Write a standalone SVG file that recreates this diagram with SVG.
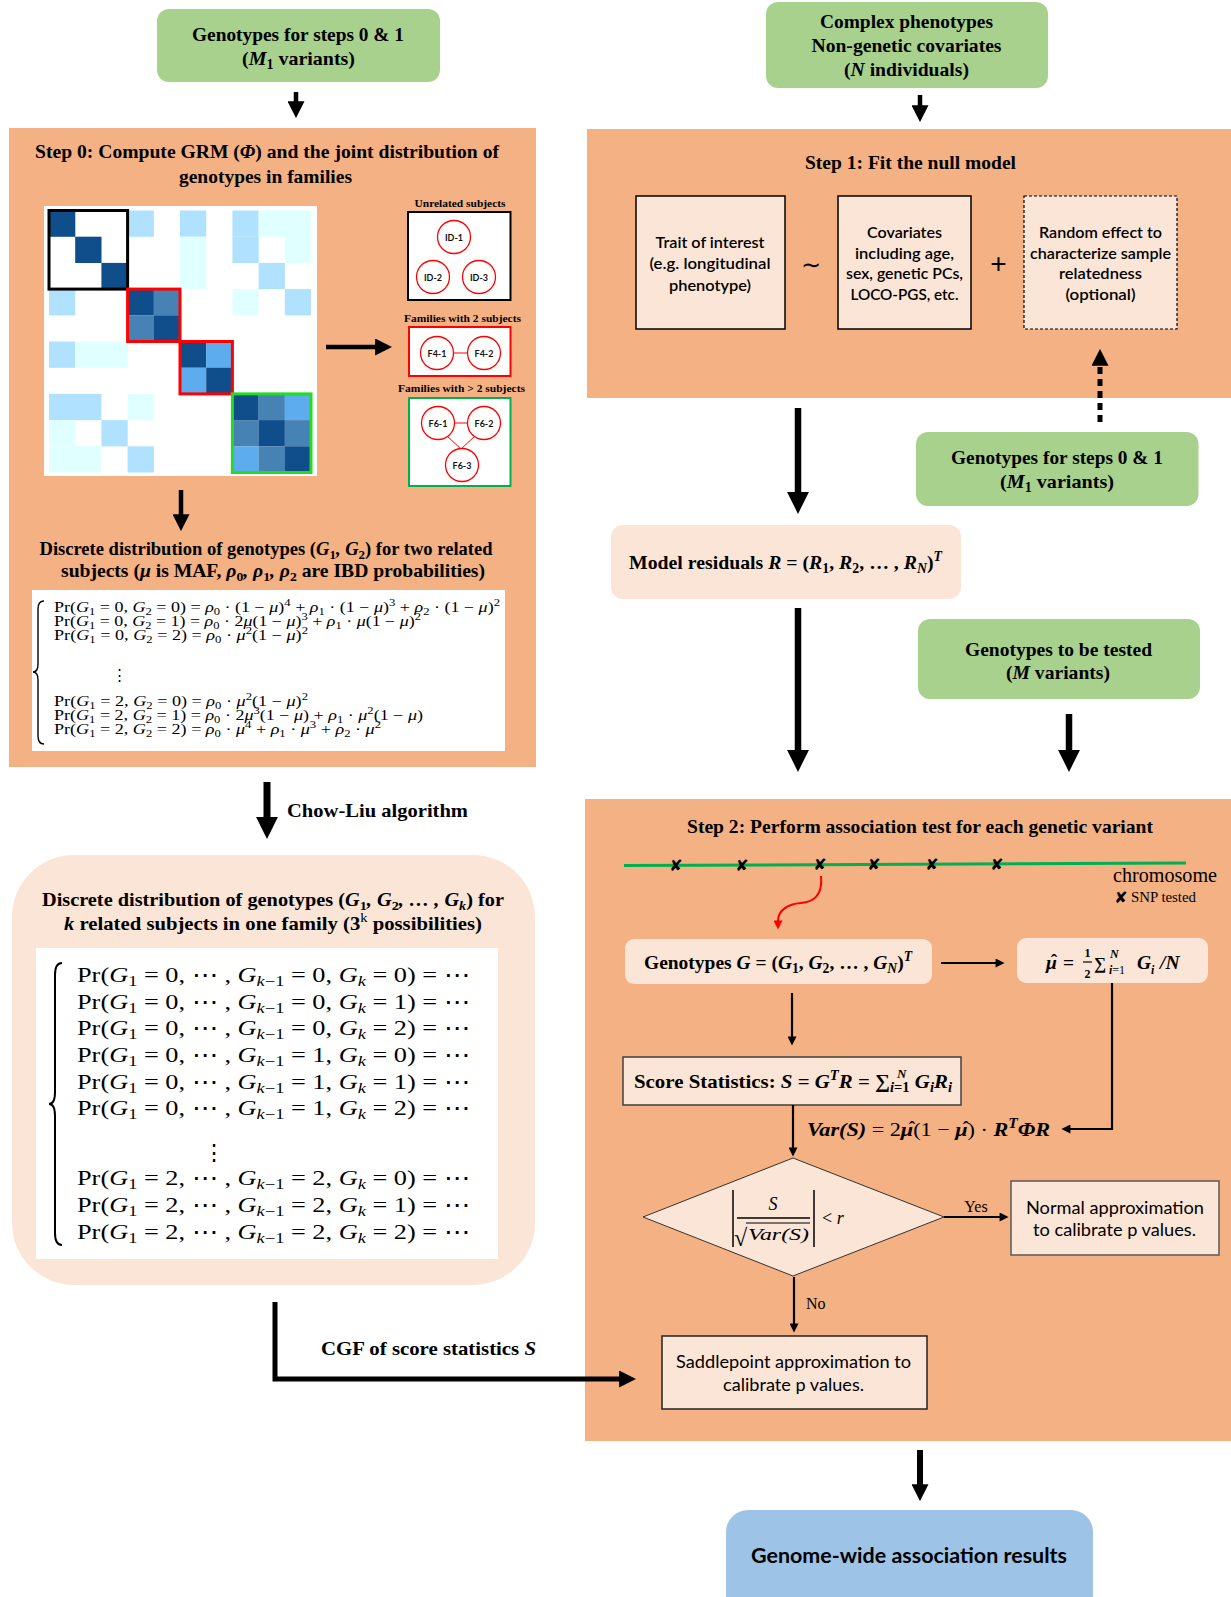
<svg xmlns="http://www.w3.org/2000/svg" width="1231" height="1597" viewBox="0 0 1231 1597">
<defs>
<style>
.sf{font-family:"Liberation Serif","Times New Roman",serif;fill:#000}
.b{font-weight:bold}
.i{font-style:italic}
.bi{font-weight:bold;font-style:italic}
.up{font-style:normal;font-weight:normal}
.ss{font-family:Lato,"Liberation Sans",sans-serif;fill:#000}
.sb{font-size:70%;baseline-shift:-0.28em}
.sp{font-size:70%;baseline-shift:0.6em}
.mid{text-anchor:middle}
.orange{fill:#F4B183}
.peach{fill:#FBE5D6}
.green{fill:#A9D18E}
.ca{fill:#E0FFFF}.cb{fill:#B0E2FF}.cc{fill:#5CACEE}.cd{fill:#4682B4}.ce{fill:#104E8B}
.circ{fill:#fff;stroke:#FF0000;stroke-width:1.3}
.clab{font-family:Lato,"Liberation Sans",sans-serif;font-weight:bold;font-size:9px;text-anchor:middle;fill:#111}
.rl{stroke:#FF0000;stroke-width:1;fill:none}
.thick{stroke:#000;fill:none}
.thin{stroke:#000;stroke-width:2.2;fill:none}
.eq{font-family:"Liberation Serif","DejaVu Serif",serif;fill:#000}
.x{font-family:"DejaVu Sans",sans-serif;font-weight:bold;font-size:16px;text-anchor:middle;fill:#000}
</style>
<marker id="mb" viewBox="0 0 10 10" refX="0.5" refY="5" markerUnits="userSpaceOnUse" markerWidth="22" markerHeight="22" orient="auto"><path d="M0,0 L10,5 L0,10 z" fill="#000"/></marker>
<marker id="mm" viewBox="0 0 10 10" refX="0.5" refY="5" markerUnits="userSpaceOnUse" markerWidth="17" markerHeight="17" orient="auto"><path d="M0,0 L10,5 L0,10 z" fill="#000"/></marker>
<marker id="ms" viewBox="0 0 10 10" refX="0.5" refY="5" markerUnits="userSpaceOnUse" markerWidth="10" markerHeight="9" orient="auto"><path d="M0,0 L10,5 L0,10 z" fill="#000"/></marker>
<marker id="mr" viewBox="0 0 10 10" refX="0.5" refY="5" markerUnits="userSpaceOnUse" markerWidth="10" markerHeight="9" orient="auto"><path d="M0,0 L10,5 L0,10 z" fill="#FF0000"/></marker>
</defs>

<rect width="1231" height="1597" fill="#fff"/>

<g id="step0">
<rect class="orange" x="9" y="128" width="527" height="639"/>
<text class="sf b mid" x="267" y="158" font-size="19.5" textLength="464" lengthAdjust="spacingAndGlyphs">Step 0: Compute GRM (<tspan class="bi">Φ</tspan>) and the joint distribution of</text>
<text class="sf b mid" x="265.5" y="183" font-size="19.5" textLength="173" lengthAdjust="spacingAndGlyphs">genotypes in families</text>
</g>

<g id="grm-matrix">
<rect x="44" y="206" width="273" height="270" fill="#fff"/>
<rect class="ce" x="49" y="210.5" width="26.3" height="26.3"/>
<rect class="cb" x="127.6" y="210.5" width="26.3" height="26.3"/>
<rect class="cb" x="180" y="210.5" width="26.3" height="26.3"/>
<rect class="cb" x="232.4" y="210.5" width="26.3" height="26.3"/>
<rect class="ca" x="258.6" y="210.5" width="52.4" height="26.3"/>
<rect class="ce" x="75.2" y="236.7" width="26.3" height="26.3"/>
<rect class="ca" x="180" y="236.7" width="26.3" height="26.3"/>
<rect class="cb" x="232.4" y="236.7" width="26.3" height="26.3"/>
<rect class="ca" x="284.8" y="236.7" width="26.2" height="26.3"/>
<rect class="ce" x="101.4" y="262.9" width="26.3" height="26.3"/>
<rect class="ca" x="180" y="262.9" width="26.3" height="26.3"/>
<rect class="cb" x="258.6" y="262.9" width="26.3" height="26.3"/>
<rect class="cb" x="49" y="289.1" width="26.3" height="26.3"/>
<rect class="ce" x="127.6" y="289.1" width="26.3" height="26.3"/>
<rect class="cd" x="153.8" y="289.1" width="26.3" height="26.3"/>
<rect class="ca" x="232.4" y="289.1" width="26.3" height="26.3"/>
<rect class="cb" x="284.8" y="289.1" width="26.2" height="26.3"/>
<rect class="cd" x="127.6" y="315.3" width="26.3" height="26.3"/>
<rect class="ce" x="153.8" y="315.3" width="26.3" height="26.3"/>
<rect class="cb" x="49" y="341.5" width="26.3" height="26.3"/>
<rect class="ca" x="75.2" y="341.5" width="52.4" height="26.3"/>
<rect class="ce" x="180" y="341.5" width="26.3" height="26.3"/>
<rect class="cc" x="206.2" y="341.5" width="26.3" height="26.3"/>
<rect class="cc" x="180" y="367.7" width="26.3" height="26.3"/>
<rect class="ce" x="206.2" y="367.7" width="26.3" height="26.3"/>
<rect class="cb" x="49" y="393.9" width="52.4" height="26.3"/>
<rect class="ca" x="127.6" y="393.9" width="26.3" height="26.3"/>
<rect class="ce" x="232.4" y="393.9" width="26.3" height="26.3"/>
<rect class="cd" x="258.6" y="393.9" width="26.3" height="26.3"/>
<rect class="cc" x="284.8" y="393.9" width="26.2" height="26.3"/>
<rect class="ca" x="49" y="420.1" width="26.3" height="26.3"/>
<rect class="cb" x="101.4" y="420.1" width="26.3" height="26.3"/>
<rect class="cd" x="232.4" y="420.1" width="26.3" height="26.3"/>
<rect class="ce" x="258.6" y="420.1" width="26.3" height="26.3"/>
<rect class="cd" x="284.8" y="420.1" width="26.2" height="26.3"/>
<rect class="ca" x="49" y="446.3" width="52.4" height="26.2"/>
<rect class="cb" x="127.6" y="446.3" width="26.3" height="26.2"/>
<rect class="cc" x="232.4" y="446.3" width="26.3" height="26.2"/>
<rect class="cd" x="258.6" y="446.3" width="26.3" height="26.2"/>
<rect class="ce" x="284.8" y="446.3" width="26.2" height="26.2"/>
<rect x="49" y="210.5" width="78.6" height="78.6" fill="none" stroke="#000" stroke-width="3"/>
<rect x="127.6" y="289.1" width="52.4" height="52.4" fill="none" stroke="#FF0000" stroke-width="3"/>
<rect x="180" y="341.5" width="52.4" height="52.4" fill="none" stroke="#FF0000" stroke-width="3"/>
<rect x="232.4" y="393.9" width="78.6" height="78.6" fill="none" stroke="#22DD22" stroke-width="3"/>
</g>

<g id="unrelated">
<text class="sf b mid" x="460" y="207" font-size="11" textLength="91" lengthAdjust="spacingAndGlyphs">Unrelated subjects</text>
<rect x="408" y="212" width="102.5" height="88" fill="#fff" stroke="#000" stroke-width="2"/>
<circle class="circ" cx="454" cy="237" r="16.5"/><text class="clab" x="454" y="240.5">ID-1</text>
<circle class="circ" cx="433" cy="277" r="16.5"/><text class="clab" x="433" y="280.5">ID-2</text>
<circle class="circ" cx="479" cy="277" r="16.5"/><text class="clab" x="479" y="280.5">ID-3</text>
</g>
<g id="fam2">
<text class="sf b mid" x="462.5" y="322" font-size="11" textLength="117" lengthAdjust="spacingAndGlyphs">Families with 2 subjects</text>
<rect x="409" y="327" width="101.5" height="49" fill="#fff" stroke="#FF0000" stroke-width="2"/>
<line class="rl" x1="453" y1="353" x2="468" y2="353"/>
<circle class="circ" cx="437" cy="353" r="16.5"/><text class="clab" x="437" y="356.5">F4-1</text>
<circle class="circ" cx="484" cy="353" r="16.5"/><text class="clab" x="484" y="356.5">F4-2</text>
</g>
<g id="fam3">
<text class="sf b mid" x="461.5" y="392" font-size="11" textLength="127" lengthAdjust="spacingAndGlyphs">Families with &gt; 2 subjects</text>
<rect x="409" y="398" width="101.5" height="88" fill="#fff" stroke="#00B050" stroke-width="2"/>
<path class="rl" d="M454 423 H468 M447 436 L461 449 M475 436 L461 449"/>
<circle class="circ" cx="438" cy="423" r="16.5"/><text class="clab" x="438" y="426.5">F6-1</text>
<circle class="circ" cx="484" cy="423" r="16.5"/><text class="clab" x="484" y="426.5">F6-2</text>
<circle class="circ" cx="462" cy="465" r="16.5"/><text class="clab" x="462" y="468.5">F6-3</text>
</g>

<g id="pair-dist">
<text class="sf b mid" x="266" y="555" font-size="19" textLength="453" lengthAdjust="spacingAndGlyphs">Discrete distribution of genotypes (<tspan class="bi">G</tspan><tspan class="sb">1</tspan><tspan class="bi">, G</tspan><tspan class="sb">2</tspan>) for two related</text>
<text class="sf b mid" x="273" y="577" font-size="19" textLength="424" lengthAdjust="spacingAndGlyphs">subjects (<tspan class="bi">μ</tspan> is MAF, <tspan class="bi">ρ</tspan><tspan class="sb">0</tspan><tspan class="bi">, ρ</tspan><tspan class="sb">1</tspan><tspan class="bi">, ρ</tspan><tspan class="sb">2</tspan> are IBD probabilities)</text>
<rect x="32" y="590" width="473" height="161" fill="#fff"/>
<path d="M44 601 Q38 601 38 609 L38 664 Q38 672 33 672 Q38 672 38 680 L38 736 Q38 744 44 744" fill="none" stroke="#000" stroke-width="1.4"/>
<text class="eq" x="54" y="612" font-size="14" textLength="446" lengthAdjust="spacingAndGlyphs">Pr(<tspan class="i">G</tspan><tspan class="sb">1</tspan> = 0, <tspan class="i">G</tspan><tspan class="sb">2</tspan> = 0) = <tspan class="i">ρ</tspan><tspan class="sb">0</tspan> · (1 − <tspan class="i">μ</tspan>)<tspan class="sp">4</tspan> + <tspan class="i">ρ</tspan><tspan class="sb">1</tspan> · (1 − <tspan class="i">μ</tspan>)<tspan class="sp">3</tspan> + <tspan class="i">ρ</tspan><tspan class="sb">2</tspan> · (1 − <tspan class="i">μ</tspan>)<tspan class="sp">2</tspan></text>
<text class="eq" x="54" y="626" font-size="14" textLength="367" lengthAdjust="spacingAndGlyphs">Pr(<tspan class="i">G</tspan><tspan class="sb">1</tspan> = 0, <tspan class="i">G</tspan><tspan class="sb">2</tspan> = 1) = <tspan class="i">ρ</tspan><tspan class="sb">0</tspan> · 2<tspan class="i">μ</tspan>(1 − <tspan class="i">μ</tspan>)<tspan class="sp">3</tspan> + <tspan class="i">ρ</tspan><tspan class="sb">1</tspan> · <tspan class="i">μ</tspan>(1 − <tspan class="i">μ</tspan>)<tspan class="sp">2</tspan></text>
<text class="eq" x="54" y="640" font-size="14" textLength="254" lengthAdjust="spacingAndGlyphs">Pr(<tspan class="i">G</tspan><tspan class="sb">1</tspan> = 0, <tspan class="i">G</tspan><tspan class="sb">2</tspan> = 2) = <tspan class="i">ρ</tspan><tspan class="sb">0</tspan> · <tspan class="i">μ</tspan><tspan class="sp">2</tspan>(1 − <tspan class="i">μ</tspan>)<tspan class="sp">2</tspan></text>
<text class="eq mid" x="119" y="680" font-size="15">⋮</text>
<text class="eq" x="54" y="706" font-size="14" textLength="254" lengthAdjust="spacingAndGlyphs">Pr(<tspan class="i">G</tspan><tspan class="sb">1</tspan> = 2, <tspan class="i">G</tspan><tspan class="sb">2</tspan> = 0) = <tspan class="i">ρ</tspan><tspan class="sb">0</tspan> · <tspan class="i">μ</tspan><tspan class="sp">2</tspan>(1 − <tspan class="i">μ</tspan>)<tspan class="sp">2</tspan></text>
<text class="eq" x="54" y="720" font-size="14" textLength="369" lengthAdjust="spacingAndGlyphs">Pr(<tspan class="i">G</tspan><tspan class="sb">1</tspan> = 2, <tspan class="i">G</tspan><tspan class="sb">2</tspan> = 1) = <tspan class="i">ρ</tspan><tspan class="sb">0</tspan> · 2<tspan class="i">μ</tspan><tspan class="sp">3</tspan>(1 − <tspan class="i">μ</tspan>) + <tspan class="i">ρ</tspan><tspan class="sb">1</tspan> · <tspan class="i">μ</tspan><tspan class="sp">2</tspan>(1 − <tspan class="i">μ</tspan>)</text>
<text class="eq" x="54" y="734" font-size="14" textLength="327" lengthAdjust="spacingAndGlyphs">Pr(<tspan class="i">G</tspan><tspan class="sb">1</tspan> = 2, <tspan class="i">G</tspan><tspan class="sb">2</tspan> = 2) = <tspan class="i">ρ</tspan><tspan class="sb">0</tspan> · <tspan class="i">μ</tspan><tspan class="sp">4</tspan> + <tspan class="i">ρ</tspan><tspan class="sb">1</tspan> · <tspan class="i">μ</tspan><tspan class="sp">3</tspan> + <tspan class="i">ρ</tspan><tspan class="sb">2</tspan> · <tspan class="i">μ</tspan><tspan class="sp">2</tspan></text>
</g>

<g id="family-dist">
<rect class="peach" x="12" y="855" width="523" height="430" rx="62"/>
<text class="sf b mid" x="273" y="906" font-size="19" textLength="462" lengthAdjust="spacingAndGlyphs">Discrete distribution of genotypes (<tspan class="bi">G</tspan><tspan class="sb">1</tspan><tspan class="bi">, G</tspan><tspan class="sb">2</tspan><tspan class="bi">, … , G</tspan><tspan class="sb i">k</tspan>) for</text>
<text class="sf b mid" x="273" y="930" font-size="19" textLength="418" lengthAdjust="spacingAndGlyphs"><tspan class="bi">k</tspan> related subjects in one family (3<tspan class="sp up">k</tspan> possibilities)</text>
<rect x="36" y="948" width="462" height="311" fill="#fff"/>
<path d="M62 963 Q55 963 55 975 L55 1092 Q55 1104 49 1104 Q55 1104 55 1116 L55 1233 Q55 1245 62 1245" fill="none" stroke="#000" stroke-width="2"/>
<text class="eq" x="77" y="982" font-size="21" textLength="393" lengthAdjust="spacingAndGlyphs">Pr(<tspan class="i">G</tspan><tspan class="sb">1</tspan> = 0, ⋯ , <tspan class="i">G</tspan><tspan class="sb"><tspan class="i">k</tspan>−1</tspan> = 0, <tspan class="i">G</tspan><tspan class="sb i">k</tspan> = 0) = ⋯</text>
<text class="eq" x="77" y="1009" font-size="21" textLength="393" lengthAdjust="spacingAndGlyphs">Pr(<tspan class="i">G</tspan><tspan class="sb">1</tspan> = 0, ⋯ , <tspan class="i">G</tspan><tspan class="sb"><tspan class="i">k</tspan>−1</tspan> = 0, <tspan class="i">G</tspan><tspan class="sb i">k</tspan> = 1) = ⋯</text>
<text class="eq" x="77" y="1035" font-size="21" textLength="393" lengthAdjust="spacingAndGlyphs">Pr(<tspan class="i">G</tspan><tspan class="sb">1</tspan> = 0, ⋯ , <tspan class="i">G</tspan><tspan class="sb"><tspan class="i">k</tspan>−1</tspan> = 0, <tspan class="i">G</tspan><tspan class="sb i">k</tspan> = 2) = ⋯</text>
<text class="eq" x="77" y="1062" font-size="21" textLength="393" lengthAdjust="spacingAndGlyphs">Pr(<tspan class="i">G</tspan><tspan class="sb">1</tspan> = 0, ⋯ , <tspan class="i">G</tspan><tspan class="sb"><tspan class="i">k</tspan>−1</tspan> = 1, <tspan class="i">G</tspan><tspan class="sb i">k</tspan> = 0) = ⋯</text>
<text class="eq" x="77" y="1089" font-size="21" textLength="393" lengthAdjust="spacingAndGlyphs">Pr(<tspan class="i">G</tspan><tspan class="sb">1</tspan> = 0, ⋯ , <tspan class="i">G</tspan><tspan class="sb"><tspan class="i">k</tspan>−1</tspan> = 1, <tspan class="i">G</tspan><tspan class="sb i">k</tspan> = 1) = ⋯</text>
<text class="eq" x="77" y="1115" font-size="21" textLength="393" lengthAdjust="spacingAndGlyphs">Pr(<tspan class="i">G</tspan><tspan class="sb">1</tspan> = 0, ⋯ , <tspan class="i">G</tspan><tspan class="sb"><tspan class="i">k</tspan>−1</tspan> = 1, <tspan class="i">G</tspan><tspan class="sb i">k</tspan> = 2) = ⋯</text>
<text class="eq mid" x="214" y="1160" font-size="22">⋮</text>
<text class="eq" x="77" y="1185" font-size="21" textLength="393" lengthAdjust="spacingAndGlyphs">Pr(<tspan class="i">G</tspan><tspan class="sb">1</tspan> = 2, ⋯ , <tspan class="i">G</tspan><tspan class="sb"><tspan class="i">k</tspan>−1</tspan> = 2, <tspan class="i">G</tspan><tspan class="sb i">k</tspan> = 0) = ⋯</text>
<text class="eq" x="77" y="1212" font-size="21" textLength="393" lengthAdjust="spacingAndGlyphs">Pr(<tspan class="i">G</tspan><tspan class="sb">1</tspan> = 2, ⋯ , <tspan class="i">G</tspan><tspan class="sb"><tspan class="i">k</tspan>−1</tspan> = 2, <tspan class="i">G</tspan><tspan class="sb i">k</tspan> = 1) = ⋯</text>
<text class="eq" x="77" y="1239" font-size="21" textLength="393" lengthAdjust="spacingAndGlyphs">Pr(<tspan class="i">G</tspan><tspan class="sb">1</tspan> = 2, ⋯ , <tspan class="i">G</tspan><tspan class="sb"><tspan class="i">k</tspan>−1</tspan> = 2, <tspan class="i">G</tspan><tspan class="sb i">k</tspan> = 2) = ⋯</text>
</g>

<g id="step1">
<rect class="orange" x="587" y="129" width="644" height="269"/>
<text class="sf b mid" x="910.5" y="169" font-size="19.5" textLength="211" lengthAdjust="spacingAndGlyphs">Step 1: Fit the null model</text>
</g>
<g id="trait">
<rect class="peach" x="636" y="196" width="149" height="133" stroke="#000" stroke-width="1.5"/>
<text class="ss mid" x="710" y="248" font-size="16" font-weight="600" textLength="109" lengthAdjust="spacingAndGlyphs">Trait of interest</text>
<text class="ss mid" x="710" y="269" font-size="16" font-weight="600" textLength="121" lengthAdjust="spacingAndGlyphs">(e.g. longitudinal</text>
<text class="ss mid" x="710" y="291" font-size="16" font-weight="600" textLength="82" lengthAdjust="spacingAndGlyphs">phenotype)</text>
</g>
<text class="mid" x="811" y="273" font-size="24" font-family="DejaVu Sans, sans-serif">∼</text>
<g id="covariates">
<rect class="peach" x="838" y="196" width="133" height="133" stroke="#000" stroke-width="1.5"/>
<text class="ss mid" x="904.5" y="238" font-size="16" font-weight="600" textLength="75" lengthAdjust="spacingAndGlyphs">Covariates</text>
<text class="ss mid" x="904.5" y="259" font-size="16" font-weight="600" textLength="99" lengthAdjust="spacingAndGlyphs">including age,</text>
<text class="ss mid" x="904.5" y="279" font-size="16" font-weight="600" textLength="117" lengthAdjust="spacingAndGlyphs">sex, genetic PCs,</text>
<text class="ss mid" x="904.5" y="300" font-size="16" font-weight="600" textLength="108" lengthAdjust="spacingAndGlyphs">LOCO-PGS, etc.</text>
</g>
<text class="mid" x="998.5" y="273" font-size="28" font-family="Liberation Sans, sans-serif" font-weight="300">+</text>
<g id="random-effect">
<rect class="peach" x="1024" y="196" width="153" height="133" stroke="#000" stroke-width="1.2" stroke-dasharray="3 2"/>
<text class="ss mid" x="1100.5" y="238" font-size="16" font-weight="600" textLength="123" lengthAdjust="spacingAndGlyphs">Random effect to</text>
<text class="ss mid" x="1100.5" y="259" font-size="16" font-weight="600" textLength="141" lengthAdjust="spacingAndGlyphs">characterize sample</text>
<text class="ss mid" x="1100.5" y="279" font-size="16" font-weight="600" textLength="83" lengthAdjust="spacingAndGlyphs">relatedness</text>
<text class="ss mid" x="1100.5" y="300" font-size="16" font-weight="600" textLength="70" lengthAdjust="spacingAndGlyphs">(optional)</text>
</g>

<g id="step2">
<rect class="orange" x="585" y="799" width="646" height="642"/>
<text class="sf b mid" x="920" y="833" font-size="19.5" textLength="466" lengthAdjust="spacingAndGlyphs">Step 2: Perform association test for each genetic variant</text>
</g>
<g id="chromosome">
<line x1="624" y1="865.5" x2="1186" y2="863" stroke="#00B050" stroke-width="3"/>
<text class="x" x="676" y="871">✘</text>
<text class="x" x="742" y="871">✘</text>
<text class="x" x="820" y="870">✘</text>
<text class="x" x="874" y="870">✘</text>
<text class="x" x="932" y="870">✘</text>
<text class="x" x="997" y="870">✘</text>
<text class="sf" x="1113" y="882" font-size="20" textLength="104" lengthAdjust="spacingAndGlyphs">chromosome</text>
<text class="x" x="1121" y="903" font-size="14">✘</text>
<text class="sf" x="1131" y="902" font-size="14.5" textLength="65" lengthAdjust="spacingAndGlyphs">SNP tested</text>
</g>

<g id="geno01-left">
<rect class="green" x="157" y="9" width="283" height="73" rx="12"/>
<text class="sf b mid" x="298" y="41" font-size="19.5" textLength="212" lengthAdjust="spacingAndGlyphs">Genotypes for steps 0 &amp; 1</text>
<text class="sf b mid" x="298.5" y="65" font-size="19.5" textLength="113" lengthAdjust="spacingAndGlyphs">(<tspan class="bi">M</tspan><tspan class="sb">1</tspan> variants)</text>
</g>
<g id="phenotypes">
<rect class="green" x="766" y="2" width="282" height="86" rx="12"/>
<text class="sf b mid" x="906.5" y="28" font-size="19.5" textLength="173" lengthAdjust="spacingAndGlyphs">Complex phenotypes</text>
<text class="sf b mid" x="906.5" y="52" font-size="19.5" textLength="190" lengthAdjust="spacingAndGlyphs">Non-genetic covariates</text>
<text class="sf b mid" x="906.5" y="76" font-size="19.5" textLength="125" lengthAdjust="spacingAndGlyphs">(<tspan class="i">N</tspan> individuals)</text>
</g>
<g id="geno01-right">
<rect class="green" x="916" y="432" width="282.5" height="74" rx="12"/>
<text class="sf b mid" x="1057" y="464" font-size="19.5" textLength="212" lengthAdjust="spacingAndGlyphs">Genotypes for steps 0 &amp; 1</text>
<text class="sf b mid" x="1057" y="488" font-size="19.5" textLength="114" lengthAdjust="spacingAndGlyphs">(<tspan class="bi">M</tspan><tspan class="sb">1</tspan> variants)</text>
</g>
<g id="residuals">
<rect class="peach" x="611" y="525" width="350" height="74" rx="12"/>
<text class="sf b" x="629" y="569" font-size="19.5" textLength="313" lengthAdjust="spacingAndGlyphs">Model residuals <tspan class="bi">R</tspan> = (<tspan class="bi">R</tspan><tspan class="sb">1</tspan>, <tspan class="bi">R</tspan><tspan class="sb">2</tspan>, … , <tspan class="bi">R</tspan><tspan class="sb bi">N</tspan>)<tspan class="sp bi">T</tspan></text>
</g>
<g id="geno-tested">
<rect class="green" x="918" y="619" width="282" height="80" rx="12"/>
<text class="sf b mid" x="1058.5" y="656" font-size="19.5" textLength="187" lengthAdjust="spacingAndGlyphs">Genotypes to be tested</text>
<text class="sf b mid" x="1058" y="679" font-size="19.5" textLength="104" lengthAdjust="spacingAndGlyphs">(<tspan class="bi">M</tspan> variants)</text>
</g>
<g id="genotypes-G">
<rect class="peach" x="625" y="939" width="307" height="45" rx="9"/>
<text class="sf b" x="644" y="969" font-size="19.5" textLength="268" lengthAdjust="spacingAndGlyphs">Genotypes <tspan class="bi">G</tspan> = (<tspan class="bi">G</tspan><tspan class="sb">1</tspan>, <tspan class="bi">G</tspan><tspan class="sb">2</tspan>, … , <tspan class="bi">G</tspan><tspan class="sb bi">N</tspan>)<tspan class="sp bi">T</tspan></text>
</g>
<g id="mu-hat">
<rect class="peach" x="1017" y="938" width="191" height="45" rx="9"/>
<text class="sf bi" x="1046" y="969" font-size="19.5">μ</text>
<text class="sf b mid" x="1054" y="967" font-size="19.5">ˆ</text>
<text class="sf b" x="1063" y="969" font-size="19.5">=</text>
<text class="sf b mid" x="1087.5" y="957" font-size="12">1</text>
<line x1="1083" y1="962" x2="1092" y2="962" stroke="#000" stroke-width="1.2"/>
<text class="sf b mid" x="1087.5" y="978" font-size="12">2</text>
<text class="sf b" x="1094" y="969" font-size="17">∑</text>
<text class="sf bi" x="1110" y="958" font-size="12">N</text>
<text class="sf bi" x="1109" y="974" font-size="12">i<tspan class="b up" font-weight="bold">=1</tspan></text>
<text class="sf bi" x="1137" y="969" font-size="19.5">G</text>
<text class="sf bi" x="1151" y="974" font-size="12">i</text>
<text class="sf bi" x="1160" y="969" font-size="19.5">/N</text>
</g>
<g id="score">
<rect class="peach" x="623" y="1057" width="338" height="48" stroke="#404040" stroke-width="1.5"/>
<text class="sf b" x="634" y="1088" font-size="19.5" textLength="318" lengthAdjust="spacingAndGlyphs">Score Statistics: <tspan class="bi">S</tspan> = <tspan class="bi">G</tspan><tspan class="sp bi">T</tspan><tspan class="bi">R</tspan> = ∑<tspan class="sb bi">i</tspan><tspan class="sb">=1</tspan> <tspan class="bi">G</tspan><tspan class="sb bi">i</tspan><tspan class="bi">R</tspan><tspan class="sb bi">i</tspan></text>
<text class="sf bi" x="897" y="1078" font-size="13">N</text>
</g>
<g id="var-label">
<text class="sf bi" x="807" y="1136" font-size="19.5" textLength="243" lengthAdjust="spacingAndGlyphs">Var(S) <tspan class="b up">= 2</tspan>μ<tspan class="b up">(1 − </tspan>μ<tspan class="b up">) · </tspan>R<tspan class="sp">T</tspan>ΦR</text>
<text class="sf b mid" x="912" y="1134" font-size="19.5">ˆ</text>
<text class="sf b mid" x="966" y="1134" font-size="19.5">ˆ</text>
</g>
<g id="decision">
<polygon class="peach" points="793,1158 944,1217 793,1276 643,1217" stroke="#333" stroke-width="1"/>
<text class="sf i mid" x="773" y="1210" font-size="18">S</text>
<line x1="737" y1="1218" x2="810" y2="1218" stroke="#000" stroke-width="1.5"/>
<text class="sf" x="734" y="1246" font-size="24">√</text>
<line x1="746" y1="1223" x2="810" y2="1223" stroke="#000" stroke-width="1"/>
<text class="sf i" x="748" y="1240" font-size="17" textLength="61" lengthAdjust="spacingAndGlyphs">Var(S)</text>
<line x1="733" y1="1190" x2="733" y2="1247" stroke="#000" stroke-width="1.5"/>
<line x1="814" y1="1190" x2="814" y2="1247" stroke="#000" stroke-width="1.5"/>
<text class="sf" x="822" y="1224" font-size="18">&lt; <tspan class="i">r</tspan></text>
</g>
<g id="normal-approx">
<rect class="peach" x="1011" y="1181" width="208" height="74" stroke="#595959" stroke-width="1.5"/>
<text class="ss mid" x="1115" y="1214" font-size="17" textLength="178" lengthAdjust="spacingAndGlyphs">Normal approximation</text>
<text class="ss mid" x="1114.5" y="1236" font-size="17" textLength="163" lengthAdjust="spacingAndGlyphs">to calibrate p values.</text>
</g>
<g id="saddlepoint">
<rect class="peach" x="662" y="1336" width="265" height="73" stroke="#222" stroke-width="1.5"/>
<text class="ss mid" x="793.5" y="1368" font-size="17" textLength="235" lengthAdjust="spacingAndGlyphs">Saddlepoint approximation to</text>
<text class="ss mid" x="793.5" y="1391" font-size="17" textLength="141" lengthAdjust="spacingAndGlyphs">calibrate p values.</text>
</g>
<g id="results">
<rect x="726" y="1510" width="367" height="110" rx="22" fill="#9DC3E6"/>
<text class="ss b mid" x="909" y="1563" font-size="20" font-weight="bold" textLength="316" lengthAdjust="spacingAndGlyphs">Genome-wide association results</text>
</g>

<g id="connectors">
<line class="thick" x1="296" y1="92" x2="296" y2="102" stroke-width="4.5" marker-end="url(#mm)"/>
<line class="thick" x1="920" y1="95" x2="920" y2="106" stroke-width="4.5" marker-end="url(#mm)"/>
<line class="thick" x1="326" y1="347" x2="376" y2="347" stroke-width="4.5" marker-end="url(#mm)"/>
<line class="thick" x1="181" y1="490" x2="181" y2="515" stroke-width="4.5" marker-end="url(#mm)"/>
<line class="thick" x1="267" y1="782" x2="267" y2="818" stroke-width="7" marker-end="url(#mb)"/>
<text class="sf b" x="287" y="817" font-size="19.5" textLength="181" lengthAdjust="spacingAndGlyphs">Chow-Liu algorithm</text>
<line class="thick" x1="798" y1="408" x2="798" y2="493" stroke-width="6.5" marker-end="url(#mb)"/>
<line class="thick" x1="1100" y1="422" x2="1100" y2="365" stroke-width="5" stroke-dasharray="7 5" marker-end="url(#mm)"/>
<line class="thick" x1="798" y1="608" x2="798" y2="751" stroke-width="6.5" marker-end="url(#mb)"/>
<line class="thick" x1="1069" y1="714" x2="1069" y2="751" stroke-width="6.5" marker-end="url(#mb)"/>
<path class="thick" d="M275 1302 V1379 H620" stroke-width="5" marker-end="url(#mm)"/>
<text class="sf b" x="321" y="1355" font-size="19.5" textLength="215" lengthAdjust="spacingAndGlyphs">CGF of score statistics <tspan class="bi">S</tspan></text>
<line class="thick" x1="920" y1="1450" x2="920" y2="1485" stroke-width="6" marker-end="url(#mm)"/>
<path d="M821 876 C823 896 813 902 801 903 C787 904 778 911 778 921" fill="none" stroke="#FF0000" stroke-width="2" marker-end="url(#mr)"/>
<line class="thin" x1="941" y1="963" x2="996" y2="963" marker-end="url(#ms)"/>
<line class="thin" x1="792" y1="993" x2="792" y2="1037" marker-end="url(#ms)"/>
<path class="thin" d="M1112 983 V1129 H1070" marker-end="url(#ms)"/>
<line class="thin" x1="793" y1="1105" x2="793" y2="1148" marker-end="url(#ms)"/>
<line class="thin" x1="944" y1="1217" x2="1000" y2="1217" marker-end="url(#ms)"/>
<text class="sf mid" x="976" y="1212" font-size="16">Yes</text>
<line class="thin" x1="794" y1="1277" x2="794" y2="1324" marker-end="url(#ms)"/>
<text class="sf" x="806" y="1309" font-size="16">No</text>
</g>
</svg>
